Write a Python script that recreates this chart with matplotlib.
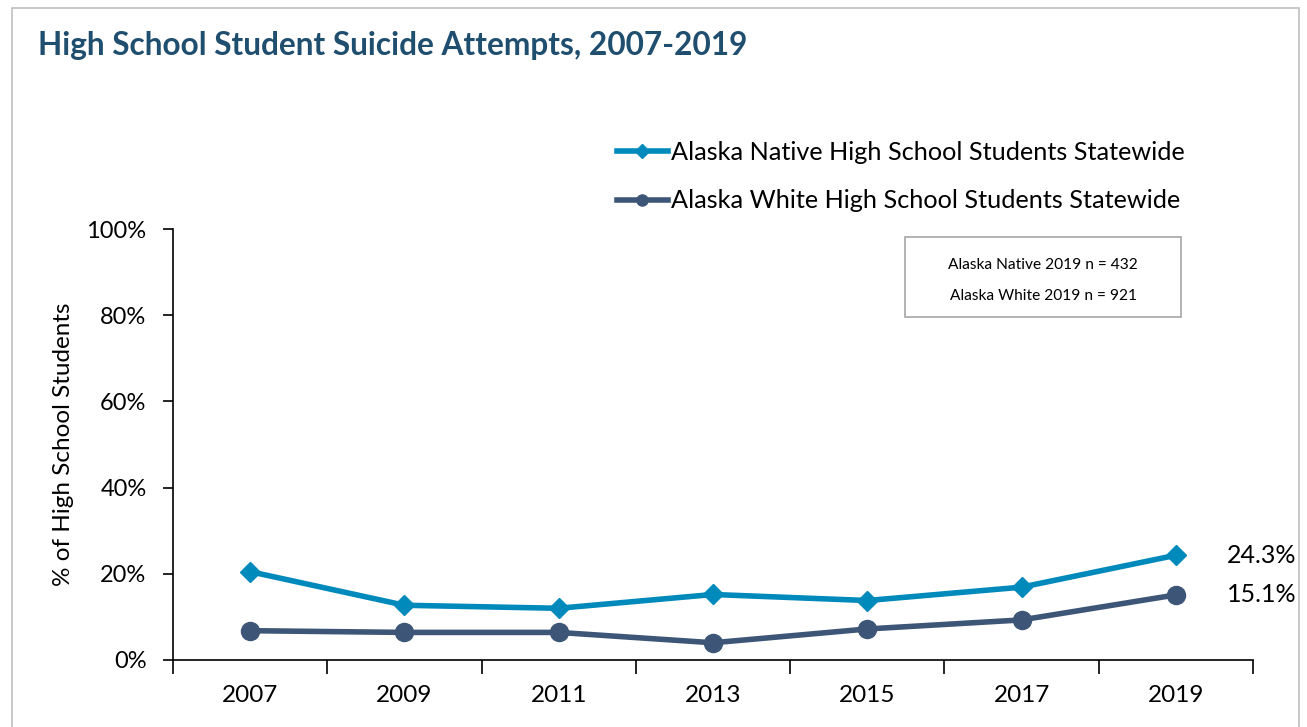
import matplotlib
matplotlib.use("Agg")
import matplotlib.pyplot as plt
from matplotlib.lines import Line2D
from matplotlib.patches import Rectangle
from matplotlib.ticker import FixedLocator, PercentFormatter

plt.rcParams['font.family'] = ['Lato', 'DejaVu Sans']

years = ["2007", "2009", "2011", "2013", "2015", "2017", "2019"]
native = [20.5, 12.7, 12.0, 15.2, 13.8, 16.9, 24.3]
white = [6.8, 6.4, 6.4, 4.0, 7.2, 9.3, 15.1]
native_label = "Alaska Native High School Students Statewide"
white_label = "Alaska White High School Students Statewide"
title = "High School Student Suicide Attempts, 2007-2019"
ylabel = "% of High School Students"
note_lines = ["Alaska Native 2019 n = 432", "Alaska White 2019 n = 921"]

c_native = "#0089BB"
c_white = "#3D5677"
c_title = "#1F4E6E"

W, H = 1307, 727
fig = plt.figure(figsize=(W / 100, H / 100), dpi=100)
fig.patch.set_facecolor("white")

# outer border
fig.patches.append(Rectangle((12 / W, -0.05), (1299 - 12) / W, 1.05 - 8 / H,
                             transform=fig.transFigure, fill=False,
                             edgecolor="#BFBFBF", lw=1.2))

ax = fig.add_axes([173 / W, 1 - 660 / H, (1253 - 173) / W, (660 - 229) / H])
x = list(range(len(years)))
ax.plot(x, native, color=c_native, lw=4.0, marker="D", ms=10, zorder=3,
        solid_joinstyle="round")
ax.plot(x, white, color=c_white, lw=4.0, marker="o", ms=13, zorder=3,
        solid_joinstyle="round")

ax.set_xlim(-0.5, len(years) - 0.5)
ax.set_ylim(0, 100)
ax.set_xticks(x)
ax.set_xticklabels(years)
ax.xaxis.set_minor_locator(FixedLocator([i - 0.5 for i in range(len(years) + 1)]))
ax.tick_params(axis="x", which="major", length=0, pad=18, labelsize=17.5,
               labelcolor="black")
ax.tick_params(axis="x", which="minor", length=10, width=1.2, direction="out",
               color="black")
ax.set_yticks(range(0, 101, 20))
ax.yaxis.set_major_formatter(PercentFormatter(decimals=0))
ax.tick_params(axis="y", length=7, width=1.2, pad=12, labelsize=17)
for s in ["top", "right"]:
    ax.spines[s].set_visible(False)
for s in ["left", "bottom"]:
    ax.spines[s].set_linewidth(1.2)
    ax.spines[s].set_color("black")

ax.set_ylabel(ylabel, fontsize=17.5)
ax.yaxis.set_label_coords((74 - 173) / 1080, 0.5)

# end labels
ax.annotate(f"{native[-1]:.1f}%", (x[-1], native[-1]), xytext=(37, 0),
            textcoords="offset points", va="center", ha="left", fontsize=18)
ax.annotate(f"{white[-1]:.1f}%", (x[-1], white[-1]), xytext=(37, 0),
            textcoords="offset points", va="center", ha="left", fontsize=18)

# legend
handles = [Line2D([], [], color=c_native, lw=4.0, marker="D", ms=7),
           Line2D([], [], color=c_white, lw=4.0, marker="o", ms=8)]
fig.legend(handles, [native_label, white_label], loc="upper left",
           bbox_to_anchor=(607 / W, 1 - 131 / H), frameon=False,
           fontsize=18.2, handlelength=2.0, handletextpad=0.12,
           labelspacing=1.0, borderaxespad=0)

# note box
fig.patches.append(Rectangle((905 / W, 1 - 317 / H), (1181 - 905) / W, 80 / H,
                             transform=fig.transFigure, fill=False,
                             edgecolor="#A6A6A6", lw=1.2))
fig.text(1043 / W, 1 - 265 / H, note_lines[0], ha="center", va="center",
         fontsize=11.2)
fig.text(1043 / W, 1 - 296 / H, note_lines[1], ha="center", va="center",
         fontsize=11.2)

fig.text(38 / W, 1 - 46 / H, title, ha="left", va="center", fontsize=22.8,
         fontweight="bold", color=c_title)

fig.savefig("out.png", dpi=100)
